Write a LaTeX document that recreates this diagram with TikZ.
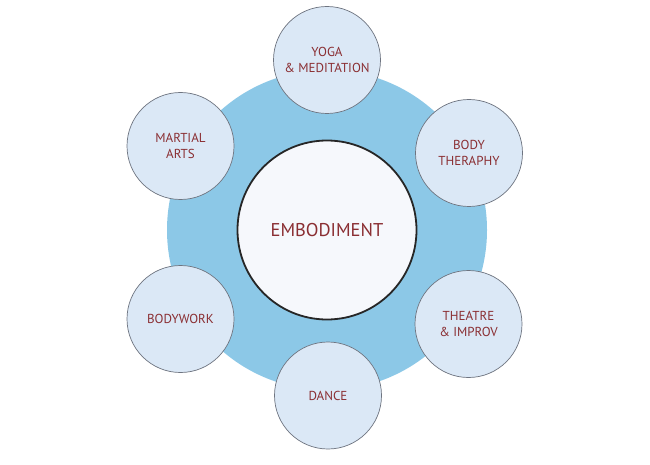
\documentclass[tikz,border=0pt]{standalone}
\usepackage{fontspec}
\setmainfont{PT Sans}
\definecolor{ringblue}{HTML}{8CC8E7}
\definecolor{petalfill}{HTML}{DBE8F6}
\definecolor{petaledge}{HTML}{6E7480}
\definecolor{hubfill}{HTML}{F6F8FC}
\definecolor{labelred}{HTML}{8A2E32}
\tikzset{
  petal/.style={circle, draw=petaledge, line width=.7pt, fill=petalfill, minimum size=107pt,
    inner sep=0pt, align=center, text=labelred, font=\fontsize{13}{15.5}\selectfont},
  hub/.style={circle, draw=black!85, line width=1.8pt, fill=hubfill, minimum size=179pt,
    inner sep=0pt, text=labelred, font=\fontsize{18.5}{22}\selectfont},
}
\begin{document}
\begin{tikzpicture}[x=1pt, y=-1pt]
	\useasboundingbox (0,0) rectangle (650,465);
	\fill[white] (0,0) rectangle (650,465);
	\path
	(327,230) coordinate (C)
	(327,60) coordinate (Y)
	(469,153) coordinate (B)
	(468.5,324) coordinate (T)
	(328,395.5) coordinate (D)
	(180.5,319) coordinate (W)
	(180.5,146) coordinate (M);
	\node[circle, fill=ringblue, minimum size=320pt, inner sep=0pt] (ring) at (C) {};
	\node[hub] (hub) at (C) {EMBODIMENT};
	\node[petal] (yoga) at (Y) {YOGA\\\& MEDITATION};
	\node[petal] (body) at (B) {BODY\\THERAPHY};
	\node[petal] (theatre) at (T) {THEATRE\\\& IMPROV};
	\node[petal] (dance) at (D) {DANCE};
	\node[petal] (bodywork) at (W) {BODYWORK};
	\node[petal] (martial) at (M) {MARTIAL\\ARTS};
\end{tikzpicture}
\end{document}
